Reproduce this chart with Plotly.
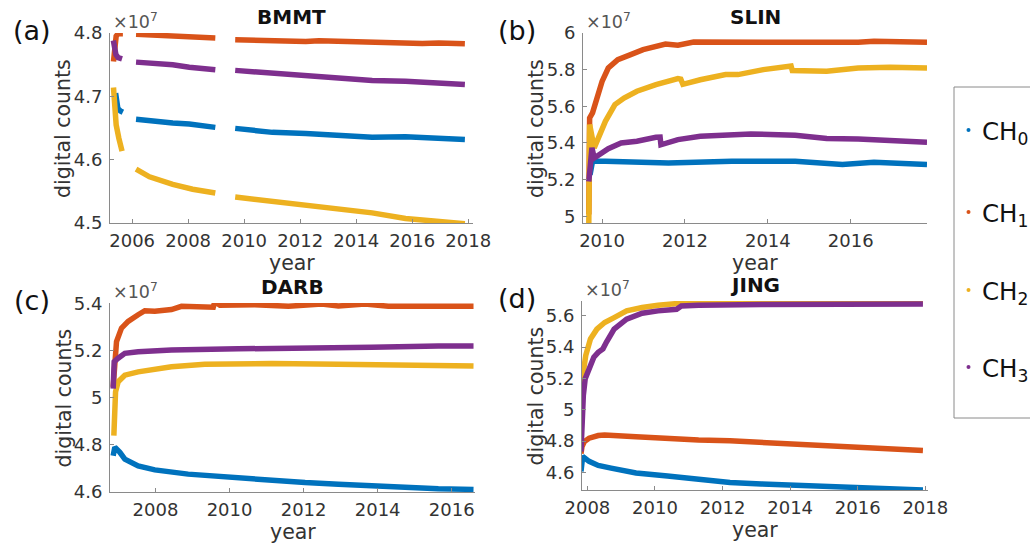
import plotly.graph_objects as go

# Channel colours (CH0..CH3)
ch_colors = ["#0072BD", "#D95319", "#EDB120", "#7E2F8E"]
ch_names = ["CH<sub>0</sub>", "CH<sub>1</sub>", "CH<sub>2</sub>", "CH<sub>3</sub>"]

# ---- BMMT (values in units of 1e7 digital counts; None marks data gaps) ----
bmmt_ch0_year = [2005.41, 2005.45, 2005.49, 2005.58, 2005.67, None,
                 2006.14, 2006.86, 2007.45, 2008.04, 2008.97, None,
                 2009.68, 2011.01, 2012.2, 2013.39, 2014.57, 2015.76, 2016.95, 2017.88]
bmmt_ch0 = [4.705, 4.692, 4.681, 4.677, 4.675, None,
            4.6637, 4.660, 4.658, 4.6563, 4.651, None,
            4.6494, 4.6431, 4.6415, 4.6378, 4.6352, 4.636, 4.6336, 4.632]
bmmt_ch1_year = [2005.335, 2005.37, 2005.43, 2005.5, 2005.67, None,
                 2006.14, 2007.45, 2008.04, 2008.97, None,
                 2009.68, 2011.01, 2012.2, 2012.67, 2013.39, 2014.57, 2015.76, 2016.36, 2016.95, 2017.88]
bmmt_ch1 = [4.755, 4.775, 4.795, 4.799, 4.799, None,
            4.798, 4.796, 4.794, 4.792, None,
            4.7894, 4.7868, 4.7865, 4.7879, 4.787, 4.786, 4.7831, 4.7835, 4.7842, 4.7831]
bmmt_ch2_year = [2005.335, 2005.37, 2005.43, 2005.525, 2005.64, None,
                 2006.14, 2006.62, 2007.45, 2008.16, 2008.97, None,
                 2009.68, 2011.01, 2012.2, 2013.39, 2014.57, 2015.76, 2016.36, 2016.95, 2017.88]
bmmt_ch2 = [4.714, 4.686, 4.655, 4.634, 4.6135, None,
            4.585, 4.573, 4.561, 4.5533, 4.5475, None,
            4.541, 4.534, 4.528, 4.5227, 4.516, 4.507, 4.5053, 4.5026, 4.499]
bmmt_ch3_year = [2005.33, 2005.36, 2005.42, 2005.5, 2005.64, None,
                 2006.14, 2007.45, 2008.04, 2008.97, None,
                 2009.68, 2011.01, 2012.2, 2013.39, 2014.57, 2015.76, 2016.95, 2017.88]
bmmt_ch3 = [4.788, 4.775, 4.766, 4.761, 4.759, None,
            4.754, 4.750, 4.746, 4.742, None,
            4.741, 4.7366, 4.7313, 4.727, 4.725, 4.724, 4.7218, 4.7187]

# ---- SLIN ----
slin_ch0_year = [2009.71, 2009.77, 2010.08, 2010.84, 2011.60, 2013.13, 2013.89,
                 2014.66, 2015.80, 2016.56, 2017.84]
slin_ch0 = [5.227, 5.30, 5.30, 5.296, 5.291, 5.30, 5.30, 5.30, 5.282, 5.295, 5.282]
slin_ch1_year = [2009.68, 2009.69, 2009.70, 2009.77, 2009.885, 2010.0, 2010.15, 2010.38,
                 2010.69, 2010.99, 2011.53, 2011.83, 2012.21, 2013.13, 2013.70, 2014.66,
                 2015.42, 2016.18, 2016.56, 2017.84]
slin_ch1 = [5.01, 5.21, 5.536, 5.564, 5.645, 5.736, 5.809, 5.855, 5.882, 5.909, 5.94,
            5.933, 5.951, 5.949, 5.955, 5.951, 5.945, 5.949, 5.955, 5.949]
slin_ch2_year = [2009.68, 2009.685, 2009.70, 2009.81, 2009.92, 2010.08, 2010.31, 2010.53,
                 2010.84, 2011.30, 2011.83, 2011.90, 2011.95, 2012.37, 2012.98, 2013.28,
                 2013.89, 2014.50, 2014.56, 2014.59, 2015.42, 2016.18, 2016.95, 2017.84]
slin_ch2 = [4.955, 5.2, 5.5, 5.373, 5.427, 5.518, 5.609, 5.645, 5.682, 5.718, 5.751,
            5.748, 5.72, 5.745, 5.773, 5.773, 5.8, 5.812, 5.82, 5.795, 5.791, 5.809,
            5.813, 5.809]
slin_ch3_year = [2009.68, 2009.756, 2009.81, 2009.92, 2010.15, 2010.46, 2010.84, 2011.30,
                 2011.40, 2011.42, 2011.83, 2012.37, 2012.75, 2013.59, 2014.66, 2015.42,
                 2016.18, 2016.95, 2017.84]
slin_ch3 = [5.19, 5.373, 5.318, 5.336, 5.369, 5.4, 5.409, 5.431, 5.432, 5.39, 5.418,
            5.436, 5.442, 5.449, 5.442, 5.424, 5.422, 5.413, 5.404]

# ---- DARB ----
darb_ch0_year = [2006.856, 2006.90, 2007.036, 2007.17, 2007.53, 2007.98, 2008.88, 2009.51,
                 2010.23, 2011.14, 2012.04, 2012.94, 2013.84, 2014.74, 2015.64, 2016.59]
darb_ch0 = [4.754, 4.79, 4.769, 4.74, 4.711, 4.694, 4.676, 4.669, 4.657, 4.647, 4.64,
            4.633, 4.626, 4.621, 4.614, 4.611]
darb_ch1_year = [2006.856, 2006.883, 2006.946, 2007.08, 2007.26, 2007.53, 2007.71, 2007.98,
                 2008.43, 2008.70, 2009.33, 2009.56, 2009.60, 2009.74, 2010.68, 2011.59,
                 2012.49, 2012.94, 2013.66, 2014.29, 2015.64, 2016.59]
darb_ch1 = [5.047, 5.14, 5.24, 5.297, 5.326, 5.354, 5.371, 5.369, 5.376, 5.39, 5.387,
            5.386, 5.409, 5.394, 5.397, 5.39, 5.4, 5.391, 5.4, 5.39, 5.39, 5.39]
darb_ch2_year = [2006.874, 2006.883, 2006.92, 2006.99, 2007.17, 2007.53, 2007.98, 2008.43,
                 2009.33, 2010.23, 2011.14, 2012.94, 2014.74, 2016.59]
darb_ch2 = [4.84, 4.954, 5.026, 5.069, 5.097, 5.111, 5.123, 5.133, 5.143, 5.147, 5.147,
            5.143, 5.14, 5.136]
darb_ch3_year = [2006.856, 2006.883, 2006.99, 2007.17, 2007.53, 2008.43, 2010.23, 2012.04,
                 2013.84, 2015.64, 2016.59]
darb_ch3 = [5.04, 5.154, 5.169, 5.19, 5.197, 5.204, 5.209, 5.211, 5.216, 5.221, 5.221]

# ---- JING ----
jing_ch0_year = [2007.81, 2007.83, 2007.86, 2008.05, 2008.32, 2008.70, 2009.44, 2010.37,
                 2011.29, 2012.22, 2013.15, 2014.08, 2015.0, 2015.93, 2016.86, 2017.93]
jing_ch0 = [4.606, 4.65, 4.701, 4.67, 4.644, 4.627, 4.596, 4.577, 4.553, 4.535, 4.526,
            4.518, 4.509, 4.50, 4.494, 4.487]
jing_ch1_year = [2007.81, 2007.84, 2007.91, 2008.05, 2008.32, 2008.51, 2009.44, 2010.37,
                 2011.29, 2012.22, 2013.15, 2014.08, 2015.0, 2015.93, 2016.86, 2017.93]
jing_ch1 = [4.72, 4.765, 4.797, 4.818, 4.835, 4.839, 4.828, 4.813, 4.806, 4.801, 4.79,
            4.78, 4.767, 4.757, 4.748, 4.740]
jing_ch2_year = [2007.81, 2007.84, 2007.88, 2007.95, 2008.09, 2008.28, 2008.51, 2008.79,
                 2009.16, 2009.62, 2010.09, 2010.83, 2012.22, 2014.08, 2015.93, 2017.93]
jing_ch2 = [4.923, 5.093, 5.241, 5.346, 5.452, 5.515, 5.558, 5.589, 5.632, 5.653, 5.668,
            5.682, 5.69, 5.69, 5.69, 5.69]
jing_ch3_year = [2007.81, 2007.84, 2007.88, 2007.935, 2008.05, 2008.19, 2008.32, 2008.46,
                 2008.56, 2008.79, 2009.16, 2009.62, 2010.09, 2010.64, 2010.78, 2011.29,
                 2013.15, 2015.0, 2017.93]
jing_ch3 = [4.733, 4.923, 5.093, 5.198, 5.272, 5.336, 5.367, 5.389, 5.431, 5.515, 5.579,
            5.617, 5.632, 5.642, 5.663, 5.668, 5.672, 5.675, 5.676]

stations = ["BMMT", "SLIN", "DARB", "JING"]
panel_tags = ["(a)", "(b)", "(c)", "(d)"]
series = {
    "BMMT": [(bmmt_ch0_year, bmmt_ch0), (bmmt_ch1_year, bmmt_ch1),
             (bmmt_ch2_year, bmmt_ch2), (bmmt_ch3_year, bmmt_ch3)],
    "SLIN": [(slin_ch0_year, slin_ch0), (slin_ch1_year, slin_ch1),
             (slin_ch2_year, slin_ch2), (slin_ch3_year, slin_ch3)],
    "DARB": [(darb_ch0_year, darb_ch0), (darb_ch1_year, darb_ch1),
             (darb_ch2_year, darb_ch2), (darb_ch3_year, darb_ch3)],
    "JING": [(jing_ch0_year, jing_ch0), (jing_ch1_year, jing_ch1),
             (jing_ch2_year, jing_ch2), (jing_ch3_year, jing_ch3)],
}

x_ticks = {
    "BMMT": [2006, 2008, 2010, 2012, 2014, 2016, 2018],
    "SLIN": [2010, 2012, 2014, 2016],
    "DARB": [2008, 2010, 2012, 2014, 2016],
    "JING": [2008, 2010, 2012, 2014, 2016, 2018],
}
y_ticks = {
    "BMMT": [4.5, 4.6, 4.7, 4.8],
    "SLIN": [5, 5.2, 5.4, 5.6, 5.8, 6],
    "DARB": [4.6, 4.8, 5, 5.2, 5.4],
    "JING": [4.6, 4.8, 5, 5.2, 5.4, 5.6],
}
x_ranges = {
    "BMMT": [2005.21, 2018.17],
    "SLIN": [2009.54, 2017.84],
    "DARB": [2006.77, 2016.63],
    "JING": [2007.84, 2018.08],
}
y_ranges = {
    "BMMT": [4.5, 4.8],
    "SLIN": [4.963, 6.0],
    "DARB": [4.6, 5.404],
    "JING": [4.487, 5.695],
}

W, H = 1030, 544
# plot boxes in pixels: left, right, top, bottom
boxes = {
    "BMMT": (110, 473, 33, 223),
    "SLIN": (583, 927, 33, 223),
    "DARB": (110, 475, 303, 492),
    "JING": (582, 928, 301, 490),
}

fig = go.Figure()
layout = dict(template="none", width=W, height=H,
              margin=dict(l=0, r=0, t=0, b=0, pad=0, autoexpand=False),
              paper_bgcolor="white", plot_bgcolor="white", showlegend=False,
              font=dict(family="DejaVu Sans", color="#333333"))
annotations = []
shapes = []

def px(x):
    return x / W

def py(y):
    return 1 - y / H

def label(text, x, y, size, color="#333333", angle=0, xanchor="center"):
    return dict(text=text, x=px(x), y=py(y), xref="paper", yref="paper",
                showarrow=False, xanchor=xanchor, yanchor="middle", textangle=angle,
                font=dict(family="DejaVu Sans", size=size, color=color))

axis_col = "#8a8a8a"
tick_font = dict(family="DejaVu Sans", size=18, color="#333333")

for i, st in enumerate(stations):
    n = "" if i == 0 else str(i + 1)
    xa, ya = "x" + n, "y" + n
    l, r, t, b = boxes[st]
    layout["xaxis" + n] = dict(
        domain=[px(l), px(r)], range=x_ranges[st], anchor=ya, automargin=False,
        tickvals=x_ticks[st], ticks="inside", ticklen=4, tickcolor=axis_col,
        showline=True, linecolor=axis_col, linewidth=1, showgrid=False, zeroline=False,
        tickfont=tick_font, ticklabelstandoff=1)
    layout["yaxis" + n] = dict(
        domain=[py(b), py(t)], range=y_ranges[st], anchor=xa, automargin=False,
        tickvals=y_ticks[st], ticktext=[f"{v:g}" for v in y_ticks[st]],
        ticks="inside", ticklen=4, tickcolor=axis_col,
        showline=True, linecolor=axis_col, linewidth=1, showgrid=False, zeroline=False,
        tickfont=tick_font, ticklabelstandoff=3)
    for c, (yr, val) in enumerate(series[st]):
        fig.add_trace(go.Scatter(
            x=yr, y=val, mode="lines", xaxis=xa, yaxis=ya,
            line=dict(color=ch_colors[c], width=5.5), connectgaps=False,
            name=ch_names[c], hoverinfo="x+y"))
    cx = (l + r) / 2
    tag_x = 32 if l < 300 else 517
    annotations += [
        label("<b>" + st + "</b>", cx, t - 16, 20, color="#111111"),   # station title
        label(panel_tags[i], tag_x, t - 3, 27, color="#111111"),       # panel tag
        label("×10<sup>7</sup>", l + 1, t - 12, 17.5, color="#555555", xanchor="left"),
        label("year", cx, b + 40, 20.5),
        label("digital counts", l - 47, (t + b) / 2 + 1, 20.5, angle=-90),
    ]

# legend box with channel keys
shapes.append(dict(type="rect", xref="paper", yref="paper",
                   x0=px(954), x1=px(1034), y0=py(418), y1=py(87),
                   line=dict(color="#8a8a8a", width=1), fillcolor="rgba(0,0,0,0)"))
legend_rows = [130, 212, 290, 367]
for c, yrow in enumerate(legend_rows):
    shapes.append(dict(type="circle", xref="paper", yref="paper",
                       x0=px(966.5), x1=px(970.5), y0=py(yrow + 2), y1=py(yrow - 2),
                       fillcolor=ch_colors[c], line=dict(width=0)))
    annotations.append(label(ch_names[c], 980, yrow + 3, 24.5, color="#111111",
                             xanchor="left"))

layout["annotations"] = annotations
layout["shapes"] = shapes
fig.update_layout(**layout)
fig.write_html("out.html")
